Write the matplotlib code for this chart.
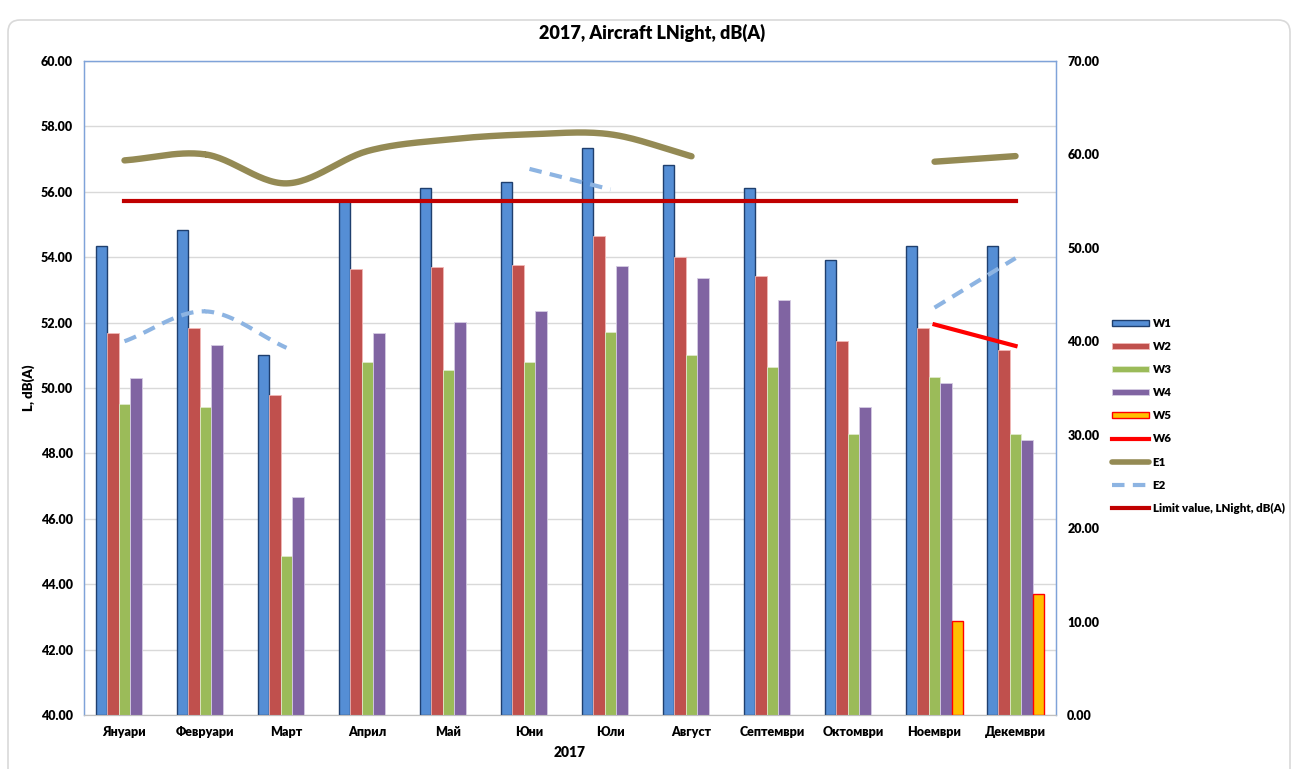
import numpy as np
import matplotlib
matplotlib.use("Agg")
import matplotlib.pyplot as plt
from matplotlib.patches import FancyBboxPatch
from matplotlib.lines import Line2D
from matplotlib.patches import Patch

plt.rcParams['font.family'] = ['Lato', 'Noto Sans', 'DejaVu Sans']
plt.rcParams['font.weight'] = 'heavy'
FW = 'heavy'

months = ['Януари', 'Февруари', 'Март', 'Април', 'Май', 'Юни', 'Юли',
          'Август', 'Септември', 'Октомври', 'Ноември', 'Декември']

# bars, left axis (dB(A))
w1 = [54.34, 54.82, 51.00, 55.72, 56.12, 56.29, 57.34, 56.83, 56.12, 53.91, 54.35, 54.35]
w2 = [51.69, 51.82, 49.80, 53.63, 53.70, 53.77, 54.66, 54.00, 53.41, 51.44, 51.82, 51.15]
w3 = [49.50, 49.42, 44.85, 50.80, 50.55, 50.80, 51.72, 51.02, 50.63, 48.58, 50.35, 48.58]
w4 = [50.30, 51.32, 46.66, 51.69, 52.02, 52.35, 53.73, 53.36, 52.69, 49.42, 50.14, 48.41]
w5 = [None] * 10 + [42.87, 43.70]

# lines, right axis
w6 = [None] * 10 + [41.8, 39.5]
e1 = [59.36, 60.0, 56.9, 60.36, 61.6, 62.15, 62.15, 59.8, None, None, 59.22, 59.82]
e2 = [40.0, 43.2, 39.3, None, None, 58.45, 56.25, None, None, None, 43.6, 48.9]
limit = [55.0] * 12


def runs(vals):
    # split a series with gaps into contiguous pieces
    out, cur = [], []
    for i, v in enumerate(vals):
        if v is None:
            if cur:
                out.append(cur)
            cur = []
        else:
            cur.append((i, v))
    if cur:
        out.append(cur)
    return out


def smooth(pts, n=30):
    # catmull-rom through the points, like excel's smoothed line
    x = np.array([p[0] for p in pts], float)
    y = np.array([p[1] for p in pts], float)
    if len(x) < 3:
        return x, y
    px = np.concatenate([[2 * x[0] - x[1]], x, [2 * x[-1] - x[-2]]])
    py = np.concatenate([[2 * y[0] - y[1]], y, [2 * y[-1] - y[-2]]])
    xs, ys = [], []
    t = np.linspace(0, 1, n)
    for i in range(1, len(px) - 2):
        for arr, res in ((px, xs), (py, ys)):
            p0, p1, p2, p3 = arr[i - 1], arr[i], arr[i + 1], arr[i + 2]
            res.extend(0.5 * ((2 * p1) + (-p0 + p2) * t +
                              (2 * p0 - 5 * p1 + 4 * p2 - p3) * t ** 2 +
                              (-p0 + 3 * p1 - 3 * p2 + p3) * t ** 3))
    return np.array(xs), np.array(ys)


fig = plt.figure(figsize=(12.98, 7.69), dpi=100)
fig.add_artist(FancyBboxPatch((8, -20), 1282, 769, boxstyle='round,pad=0,rounding_size=12',
                              transform=None, fc='white', ec='#D9D9D9', lw=1.2, zorder=-5))

ax = fig.add_axes([0.0647, 0.0702, 0.7489, 0.8505])
ax2 = ax.twinx()

x = np.arange(len(months))
bw = 0.142
bar_specs = [
    (w1, '#558ED5', '#1F3F6E', 1.0),
    (w2, '#C0504D', '#F2B8B6', 0.6),
    (w3, '#9BBB59', '#E0EACB', 0.6),
    (w4, '#8064A2', '#D5CCE3', 0.6),
    (w5, '#FFC000', '#FF0000', 1.0),
]
labels = ['W1', 'W2', 'W3', 'W4', 'W5']
for k, (vals, fc, ec, lw) in enumerate(bar_specs):
    xs = [x[i] + (k - 2) * bw for i, v in enumerate(vals) if v is not None]
    hs = [v - 40 for v in vals if v is not None]
    ax.bar(xs, hs, bw, bottom=40, color=fc, edgecolor=ec, linewidth=lw, zorder=3)

ax.set_ylim(40, 60)
ax.set_xlim(-0.5, 11.5)
ax.set_yticks(np.arange(40, 60.1, 2))
ax.set_yticklabels(['%.2f' % v for v in np.arange(40, 60.1, 2)], fontsize=9, fontweight=FW)
ax.set_xticks(x)
ax.set_xticklabels(months, fontsize=9, fontweight=FW)
ax.tick_params(length=0, pad=8)
ax.grid(axis='y', color='#D9D9D9', lw=1, zorder=0)
ax.set_axisbelow(True)
ax.set_ylabel('L, dB(A)', fontsize=9.5, fontweight=FW, labelpad=4)
ax.set_xlabel('2017', fontsize=10, fontweight=FW, labelpad=6)

for a in (ax, ax2):
    for s in ('left', 'right', 'top'):
        a.spines[s].set_color('#7FA3D9')
        a.spines[s].set_linewidth(0.9)
    a.spines['bottom'].set_color('#BFBFBF')

# lines on the secondary axis
for seg in runs(e1):
    sx, sy = smooth(seg)
    ax2.plot(sx, sy, color='#948A54', lw=4.6, solid_capstyle='round')
for seg in runs(e2):
    sx, sy = smooth(seg)
    ax2.plot(sx, sy, color='#8DB4E2', lw=3, ls=(0, (3, 2)))
for seg in runs(w6):
    ax2.plot([p[0] for p in seg], [p[1] for p in seg], color='#FF0000', lw=3)
ax2.plot(x, limit, color='#C00000', lw=3)

ax2.set_ylim(0, 70)
ax2.set_yticks(np.arange(0, 70.1, 10))
ax2.set_yticklabels(['%.2f' % v for v in np.arange(0, 70.1, 10)], fontsize=9, fontweight=FW)
ax2.tick_params(length=0, pad=8)
ax2.set_xlim(-0.5, 11.5)

fig.text(0.502, 0.957, '2017, Aircraft LNight, dB(A)', ha='center', va='center',
         fontsize=13, fontweight=FW)

handles = [Patch(fc=s[1], ec=s[2], lw=s[3]) for s in bar_specs]
handles += [
    Line2D([], [], color='#FF0000', lw=3),
    Line2D([], [], color='#948A54', lw=4, solid_capstyle='round'),
    Line2D([], [], color='#8DB4E2', lw=3, ls=(0, (3, 2))),
    Line2D([], [], color='#C00000', lw=3),
]
names = labels + ['W6', 'E1', 'E2', 'Limit value, LNight, dB(A)']
fig.legend(handles, names, loc='upper left', bbox_to_anchor=(0.849, 0.6),
           frameon=False, handlelength=3.2, handleheight=0.45,
           handletextpad=0.3, labelspacing=1.05, prop={'weight': FW, 'size': 8.3})

fig.savefig('out.png', dpi=100)
